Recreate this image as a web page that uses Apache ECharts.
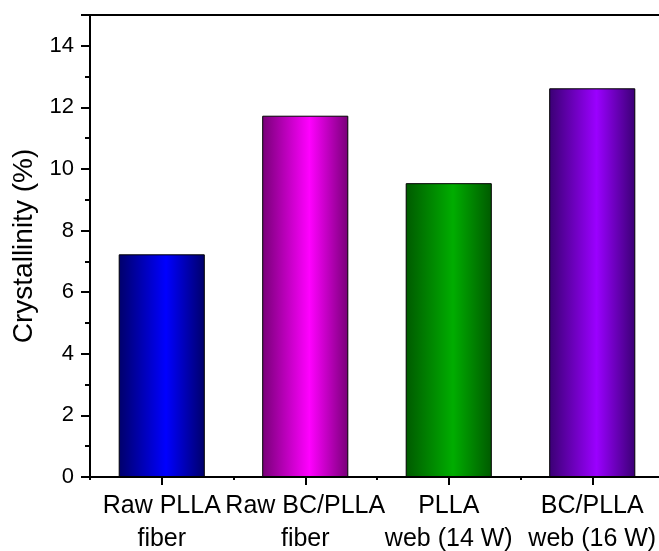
<!DOCTYPE html>
<html>
<head>
<meta charset="utf-8">
<script src="https://cdn.jsdelivr.net/npm/echarts@6/dist/echarts.min.js"></script>
<style>
  html, body { margin: 0; padding: 0; background: #fff; }
  #chart { width: 659px; height: 551px; }
</style>
</head>
<body>
<div id="chart"></div>
<script>
// Crystallinity of the four samples
const categories = ['Raw PLLA\nfiber', 'Raw BC/PLLA\nfiber', 'PLLA\nweb (14 W)', 'BC/PLLA\nweb (16 W)'];
const crystallinity = [7.23, 11.73, 9.54, 12.62];
const yTicks = [0, 2, 4, 6, 8, 10, 12, 14];

// Edge / centre colours for each bar's horizontal shading
const barShades = [
  ['#00006a', '#0000ff'],
  ['#780078', '#ff00ff'],
  ['#005a00', '#00ad00'],
  ['#3a0074', '#9b00ff']
];

const font = 'Arial, "Liberation Sans", Helvetica, sans-serif';

function shade(pair) {
  return new echarts.graphic.LinearGradient(0, 0, 1, 0, [
    { offset: 0, color: pair[0] },
    { offset: 0.55, color: pair[1] },
    { offset: 1, color: pair[0] }
  ]);
}

const chart = echarts.init(document.getElementById('chart'), null, { renderer: 'canvas' });

chart.setOption({
  backgroundColor: '#fff',
  animation: false,
  grid: {
    left: 90, right: -5, top: 15, bottom: 74,
    containLabel: false,
    outerBoundsMode: 'none',
    show: true, borderColor: '#000', borderWidth: 2, backgroundColor: 'transparent'
  },
  xAxis: [
    {
      type: 'category',
      data: categories,
      position: 'bottom',
      axisLine: { show: true, lineStyle: { color: '#000', width: 2 } },
      axisTick: { show: true, alignWithLabel: true, length: 8, lineStyle: { color: '#000', width: 2 } },
      axisLabel: {
        color: '#000', fontFamily: font, fontSize: 25, lineHeight: 33, margin: 13,
        interval: 0
      },
      splitLine: { show: false }
    },
    {
      // short marks on the category boundaries
      type: 'category',
      data: categories,
      position: 'bottom',
      axisLine: { show: false },
      axisTick: { show: true, alignWithLabel: false, length: 3, lineStyle: { color: '#000', width: 2 } },
      axisLabel: { show: false },
      splitLine: { show: false }
    }
  ],
  yAxis: {
    type: 'value',
    min: 0,
    max: 15,
    interval: 2,
    name: 'Crystallinity (%)',
    nameLocation: 'middle',
    nameGap: 52,
    nameTextStyle: { color: '#000', fontFamily: font, fontSize: 28 },
    axisLine: { show: true, lineStyle: { color: '#000', width: 2 } },
    axisTick: { show: true, length: 9, lineStyle: { color: '#000', width: 2 } },
    minorTick: { show: true, splitNumber: 2, length: 5, lineStyle: { color: '#000', width: 2 } },
    axisLabel: {
      color: '#000', fontFamily: font, fontSize: 22, margin: 16,
      formatter: v => (yTicks.indexOf(v) >= 0 ? String(v) : '')
    },
    splitLine: { show: false },
    minorSplitLine: { show: false }
  },
  series: [
    {
      type: 'bar',
      xAxisIndex: 0,
      barWidth: '60%',
      data: crystallinity.map((v, i) => ({
        value: v,
        itemStyle: { color: shade(barShades[i]), borderColor: '#000', borderWidth: 1 }
      }))
    }
  ]
});
</script>
</body>
</html>
